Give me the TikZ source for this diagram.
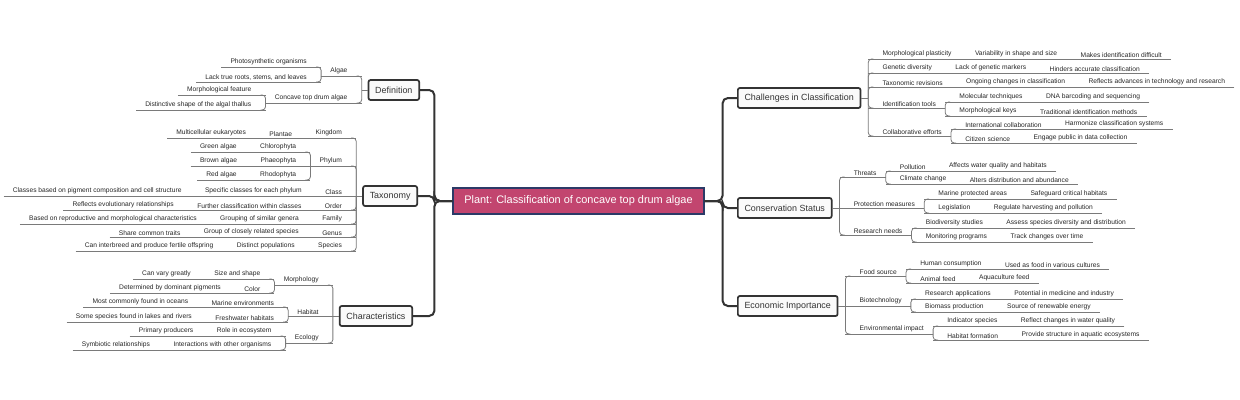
\documentclass[tikz,border=0pt]{standalone}
\usepackage{fontspec}
\setmainfont{Liberation Sans}
\usetikzlibrary{calc}
\definecolor{lncol}{HTML}{7A7A7A}
\definecolor{trk}{HTML}{333333}
\definecolor{ctrfill}{HTML}{C2456F}
\definecolor{ctrdraw}{HTML}{2B3A67}
\tikzset{
 leaf/.style={inner xsep=0pt,inner ysep=1.2pt,font=\fontsize{5pt}{6pt}\selectfont,text=black!85},
 ln/.style={draw=lncol,line width=0.6pt},
 trunk/.style={draw=trk,line width=1.5pt,rounded corners=4pt},
 mbox/.style={draw=trk,line width=1.3pt,fill=black!2,rounded corners=1.5pt,minimum height=15pt,inner xsep=5pt,font=\fontsize{6.7pt}{8pt}\selectfont,text=black!80},
}
\newcommand\mmL[4]{%
 \coordinate (yy) at (0,#3);
 \coordinate (pp) at (#2 |- yy);
 \node[leaf,anchor=south east] (#1) at ($(pp)+(-14,0)$) {#4};
 \coordinate (#1a) at ($(#1.south west)+(-9,0)$);
 \draw[ln] (#1a) -- (pp);
 \draw[ln,rounded corners=2.5pt] (#2) -- (pp) -- ($(pp)+(-5,0)$);
}
\newcommand\mmLs[4]{%
 \coordinate (yy) at (0,#3);
 \coordinate (pp) at (#2 |- yy);
 \node[leaf,anchor=south east] (#1) at ($(pp)+(-14,0)$) {#4};
 \coordinate (#1a) at ($(#1.south west)+(-9,0)$);
 \draw[ln] (#1a) -- (pp);
}
\newcommand\mmR[4]{%
 \coordinate (yy) at (0,#3);
 \coordinate (pp) at (#2 |- yy);
 \node[leaf,anchor=south west] (#1) at ($(pp)+(14,0)$) {#4};
 \coordinate (#1a) at ($(#1.south east)+(9,0)$);
 \draw[ln] (#1a) -- (pp);
 \draw[ln,rounded corners=2.5pt] (#2) -- (pp) -- ($(pp)+(5,0)$);
}
\newcommand\mmRs[4]{%
 \coordinate (yy) at (0,#3);
 \coordinate (pp) at (#2 |- yy);
 \node[leaf,anchor=south west] (#1) at ($(pp)+(14,0)$) {#4};
 \coordinate (#1a) at ($(#1.south east)+(9,0)$);
 \draw[ln] (#1a) -- (pp);
}
\begin{document}
\begin{tikzpicture}[x=0.75pt,y=-0.75pt]
\useasboundingbox (0,0) rectangle (1240,400);
\node[draw=ctrdraw,line width=1.1pt,fill=ctrfill,text=white,minimum width=188pt,minimum height=19.5pt,inner sep=0pt,font=\fontsize{8.2pt}{9.5pt}\selectfont] (c) at (578.5,201) {Plant: Classification of concave top drum algae};
\node[mbox,anchor=east] (def) at (420,90) {Definition};
\node[mbox,anchor=east] (tax) at (418,196) {Taxonomy};
\node[mbox,anchor=east] (chr) at (413,316) {Characteristics};
\node[mbox,anchor=west] (chal) at (737,98) {Challenges in Classification};
\node[mbox,anchor=west] (cons) at (737,208) {Conservation Status};
\node[mbox,anchor=west] (econ) at (737,306) {Economic Importance};
\draw[trunk] (c.west) -- ++(-18,0) |- (def.east);
\draw[trunk] (c.west) -- ++(-18,0) |- (tax.east);
\draw[trunk] (c.west) -- ++(-18,0) |- (chr.east);
\draw[trunk] (c.east) -- ++(18,0) |- (chal.west);
\draw[trunk] (c.east) -- ++(18,0) |- (cons.west);
\draw[trunk] (c.east) -- ++(18,0) |- (econ.west);
\foreach \b in {def,tax,chr}{\coordinate (\b a) at ($(\b.west)+(-6,0)$); \draw[ln] (\b.west) -- (\b a);}
\foreach \b in {chal,cons,econ}{\coordinate (\b a) at ($(\b.east)+(7,0)$); \draw[ln] (\b.east) -- (\b a);}
% Definition
\mmL{algae}{defa}{76}{Algae}
\mmL{photo}{algaea}{67}{Photosynthetic organisms}
\mmL{lack}{algaea}{82}{Lack true roots, stems, and leaves}
\mmL{conc}{defa}{103}{Concave top drum algae}
\mmL{mf}{conca}{95}{Morphological feature}
\mmL{ds}{conca}{110}{Distinctive shape of the algal thallus}
% Taxonomy
\mmL{king}{taxa}{138}{Kingdom}
\mmLs{plan}{kinga}{138}{Plantae}
\mmLs{multi}{plana}{138}{Multicellular eukaryotes}
\mmL{phyl}{taxa}{166}{Phylum}
\mmL{chlo}{phyla}{152}{Chlorophyta}
\mmLs{green}{chloa}{152}{Green algae}
\mmLs{phae}{phyla}{166}{Phaeophyta}
\mmLs{brown}{phaea}{166}{Brown algae}
\mmL{rhod}{phyla}{180}{Rhodophyta}
\mmLs{red}{rhoda}{180}{Red algae}
\mmLs{cls}{taxa}{196}{Class}
\mmLs{spec}{clsa}{196}{Specific classes for each phylum}
\mmLs{clb}{speca}{196}{Classes based on pigment composition and cell structure}
\mmL{ord}{taxa}{210}{Order}
\mmLs{fur}{orda}{210}{Further classification within classes}
\mmLs{refl}{fura}{210}{Reflects evolutionary relationships}
\mmL{fam}{taxa}{224}{Family}
\mmLs{grp}{fama}{224}{Grouping of similar genera}
\mmLs{bas}{grpa}{224}{Based on reproductive and morphological characteristics}
\mmL{gen}{taxa}{237}{Genus}
\mmLs{gcl}{gena}{237}{Group of closely related species}
\mmLs{shr}{gcla}{237}{Share common traits}
\mmL{spc}{taxa}{251}{Species}
\mmLs{dis}{spca}{251}{Distinct populations}
\mmLs{can}{disa}{251}{Can interbreed and produce fertile offspring}
% Characteristics
\mmL{morph}{chra}{285}{Morphology}
\mmL{size}{morpha}{279}{Size and shape}
\mmLs{vary}{sizea}{279}{Can vary greatly}
\mmL{col}{morpha}{293}{Color}
\mmLs{det}{cola}{293}{Determined by dominant pigments}
\mmLs{hab}{chra}{316}{Habitat}
\mmL{mar}{haba}{307}{Marine environments}
\mmLs{most}{mara}{307}{Most commonly found in oceans}
\mmL{fre}{haba}{322}{Freshwater habitats}
\mmLs{some}{frea}{322}{Some species found in lakes and rivers}
\mmL{eco}{chra}{343}{Ecology}
\mmL{role}{ecoa}{336}{Role in ecosystem}
\mmLs{prim}{rolea}{336}{Primary producers}
\mmL{inter}{ecoa}{350}{Interactions with other organisms}
\mmLs{sym}{intera}{350}{Symbiotic relationships}
% Challenges
\mmR{mp}{chala}{59}{Morphological plasticity}
\mmRs{var}{mpa}{59}{Variability in shape and size}
\mmRs{mid}{vara}{59}{Makes identification difficult}
\mmR{gd}{chala}{73}{Genetic diversity}
\mmRs{lgm}{gda}{73}{Lack of genetic markers}
\mmRs{hin}{lgma}{73}{Hinders accurate classification}
\mmR{tr}{chala}{87}{Taxonomic revisions}
\mmRs{ong}{tra}{87}{Ongoing changes in classification}
\mmRs{rat}{onga}{87}{Reflects advances in technology and research}
\mmR{it}{chala}{108}{Identification tools}
\mmR{mt}{ita}{102}{Molecular techniques}
\mmRs{dna}{mta}{102}{DNA barcoding and sequencing}
\mmR{mk}{ita}{116}{Morphological keys}
\mmRs{tim}{mka}{116}{Traditional identification methods}
\mmR{ce}{chala}{136}{Collaborative efforts}
\mmR{ic}{cea}{129}{International collaboration}
\mmRs{hcs}{ica}{129}{Harmonize classification systems}
\mmR{cs}{cea}{143}{Citizen science}
\mmRs{epd}{csa}{143}{Engage public in data collection}
% Conservation
\mmR{thr}{consa}{177}{Threats}
\mmR{pol}{thra}{171}{Pollution}
\mmRs{awq}{pola}{171}{Affects water quality and habitats}
\mmR{cc}{thra}{184}{Climate change}
\mmRs{ada}{cca}{184}{Alters distribution and abundance}
\mmRs{pm}{consa}{208}{Protection measures}
\mmR{mpa}{pma}{199}{Marine protected areas}
\mmRs{sch}{mpaa}{199}{Safeguard critical habitats}
\mmR{leg}{pma}{213}{Legislation}
\mmRs{rhp}{lega}{213}{Regulate harvesting and pollution}
\mmR{rn}{consa}{235}{Research needs}
\mmR{bs}{rna}{228}{Biodiversity studies}
\mmRs{asd}{bsa}{228}{Assess species diversity and distribution}
\mmR{mon}{rna}{242}{Monitoring programs}
\mmRs{tco}{mona}{242}{Track changes over time}
% Economic
\mmR{fs}{econa}{276}{Food source}
\mmR{hc}{fsa}{269}{Human consumption}
\mmRs{ufc}{hca}{269}{Used as food in various cultures}
\mmR{af}{fsa}{283}{Animal feed}
\mmRs{aqf}{afa}{283}{Aquaculture feed}
\mmRs{bt}{econa}{306}{Biotechnology}
\mmR{ra}{bta}{299}{Research applications}
\mmRs{pmi}{raa}{299}{Potential in medicine and industry}
\mmR{bp}{bta}{312}{Biomass production}
\mmRs{sre}{bpa}{312}{Source of renewable energy}
\mmR{ei}{econa}{334}{Environmental impact}
\mmR{isp}{eia}{326}{Indicator species}
\mmRs{rcw}{ispa}{326}{Reflect changes in water quality}
\mmR{hf}{eia}{340}{Habitat formation}
\mmRs{psa}{hfa}{340}{Provide structure in aquatic ecosystems}
\end{tikzpicture}
\end{document}
